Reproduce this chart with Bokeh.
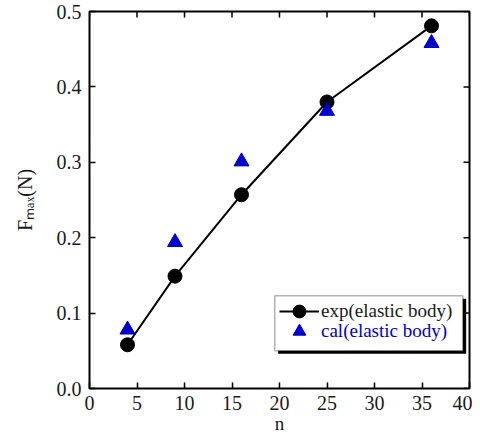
import math
from bokeh.plotting import figure
from bokeh.models import (Range1d, Legend, LegendItem,
                          BoxAnnotation, FixedTicker, CustomJSTickFormatter)
from bokeh.embed import file_html
from bokeh.resources import INLINE

n_vals = [4, 9, 16, 25, 36]
exp_vals = [0.058, 0.149, 0.257, 0.380, 0.481]
cal_vals = [0.078, 0.194, 0.301, 0.368, 0.458]
x_ticks = [0, 5, 10, 15, 20, 25, 30, 35, 40]
y_ticks = [0.0, 0.1, 0.2, 0.3, 0.4, 0.5]

FONT = "Times"
TXT = "#1a1a1a"
BLUE = "#0000CD"

p = figure(frame_width=380, frame_height=377, output_backend="svg",
           toolbar_location=None, x_range=Range1d(0, 40), y_range=Range1d(0, 0.5),
           min_border_left=89, min_border_right=3, min_border_top=11,
           min_border_bottom=46)
p.grid.visible = False
p.background_fill_color = "white"
p.outline_line_color = "black"
p.outline_line_width = 2

def style_axis(ax, ticks):
    ax.ticker = FixedTicker(ticks=ticks)
    ax.major_tick_in = 6
    ax.major_tick_out = 0
    ax.minor_tick_in = 0
    ax.minor_tick_out = 0
    ax.axis_line_color = None
    ax.major_tick_line_color = "black"
    ax.major_tick_line_width = 1.5
    ax.major_label_text_font = FONT
    ax.major_label_text_font_size = "20px"
    ax.major_label_text_color = TXT

xa = p.xaxis[0]
style_axis(xa, x_ticks)
xa.major_label_standoff = 7
xa.axis_label = "n"
xa.axis_label_text_font = FONT
xa.axis_label_text_font_size = "19px"
xa.axis_label_text_font_style = "normal"
xa.axis_label_standoff = 0
xa.axis_label_text_color = TXT

ya = p.yaxis[0]
style_axis(ya, y_ticks)
ya.major_label_standoff = 8
ya.formatter = CustomJSTickFormatter(code="return tick.toFixed(1);")
ya.axis_label = "F\u2098\u2090\u2093(N)"
ya.axis_label_text_font = FONT
ya.axis_label_text_font_size = "20px"
ya.axis_label_text_font_style = "normal"
ya.axis_label_standoff = 18
ya.axis_label_text_color = TXT

# inward ticks on the top and right edges
top_y = [y_ticks[-1]] * len(x_ticks)
right_x = [x_ticks[-1]] * len(y_ticks)
p.scatter(x_ticks, top_y, marker="dash", angle=math.pi / 2, size=12,
          line_color="black", line_width=1.5)
p.scatter(right_x, y_ticks, marker="dash", size=12,
          line_color="black", line_width=1.5)

line_r = p.line(n_vals, exp_vals, line_color="black", line_width=2)
circ_r = p.scatter(n_vals, exp_vals, marker="circle", size=14, fill_color="black",
                   line_color="black")
tri_r = p.scatter(n_vals, cal_vals, marker="triangle", size=15,
                  fill_color=BLUE, line_color=BLUE)

# legend box with shadow
p.add_layout(BoxAnnotation(left=19.85, right=39.65, bottom=0.046, top=0.119,
                           fill_color="black", fill_alpha=1, line_color=None,
                           level="annotation"))
p.add_layout(BoxAnnotation(left=19.5, right=39.3, bottom=0.050, top=0.123,
                           fill_color="white", fill_alpha=1, line_color="black",
                           line_width=1.5, level="annotation"))

leg1 = Legend(items=[LegendItem(label="exp(elastic body)", renderers=[line_r, circ_r])],
              location=(190, 61), label_text_color=TXT)
leg2 = Legend(items=[LegendItem(label="cal(elastic body)", renderers=[tri_r])],
              location=(190, 41), label_text_color=BLUE)
for lg in (leg1, leg2):
    lg.border_line_color = None
    lg.background_fill_alpha = 0
    lg.padding = 0
    lg.margin = 0
    lg.spacing = 0
    lg.glyph_width = 40
    lg.glyph_height = 32
    lg.label_height = 32
    lg.label_standoff = 2
    lg.label_text_font = FONT
    lg.label_text_font_size = "19px"
    lg.label_text_baseline = "middle"
    p.add_layout(lg, "center")

open("out.html", "w").write(file_html(p, INLINE))
